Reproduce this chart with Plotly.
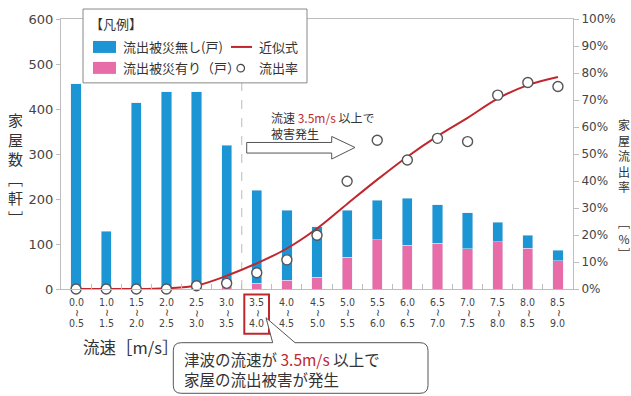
import plotly.graph_objects as go

# ---------------- data ----------------
speed_from = ["0.0", "1.0", "1.5", "2.0", "2.5", "3.0", "3.5", "4.0", "4.5",
              "5.0", "5.5", "6.0", "6.5", "7.0", "7.5", "8.0", "8.5"]
speed_to = ["0.5", "1.5", "2.0", "2.5", "3.0", "3.5", "4.0", "4.5", "5.0",
            "5.5", "6.0", "6.5", "7.0", "7.5", "8.0", "8.5", "9.0"]
categories = [f"{a}~{b}" for a, b in zip(speed_from, speed_to)]

# houses washed away (pink) and not washed away (blue)
washed = [0, 0, 0, 0, 5, 7, 13, 20, 26, 71, 109, 97, 102, 90, 105, 91, 63]
not_washed = [456, 128, 414, 438, 433, 312, 206, 155, 112, 104, 88, 105, 85, 80, 43, 29, 23]
# washed-away ratio (%) and fitted curve (%)
ratio = [0, 0, 0, 0, 1.2, 2.1, 6.0, 10.8, 19.9, 39.9, 55.1, 47.8, 55.8, 54.6, 71.8, 76.5, 75.0]
fit = [0, 0, 0, 0.3, 1.3, 4.9, 9.5, 15.0, 22.4, 31.5, 40.5, 49.0, 56.6, 63.4, 70.5, 75.5, 78.5]

left_ticks = [0, 100, 200, 300, 400, 500, 600]
right_ticks = [0, 10, 20, 30, 40, 50, 60, 70, 80, 90, 100]
right_labels = [f"{v}%" for v in right_ticks]

# ---------------- styles ----------------
BLUE = "#1b95d3"
PINK = "#e86ca8"
RED = "#c0272d"
GRAY = "#bdbdbd"
TXT = "#333333"
JP = "Noto Sans CJK JP"
NUM = "DejaVu Sans"
NARROW = "Liberation Sans Narrow, DejaVu Sans Condensed, DejaVu Sans"

W_FIG, H_FIG = 631, 396
L, R, T, B = 61, 573, 19, 289.5


def px(x):
    return (x - L) / (R - L)


def py(y):
    return (B - y) / (B - T)


fig = go.Figure()
fig.add_trace(go.Bar(x=categories, y=washed, marker_color=PINK, name="流出被災有り（戸）",
                     showlegend=False))
fig.add_trace(go.Bar(x=categories, y=not_washed, marker_color=BLUE, name="流出被災無し(戸)",
                     showlegend=False))
fig.add_trace(go.Scatter(x=categories, y=fit, yaxis="y2", mode="lines",
                         line=dict(color=RED, width=2, shape="spline", smoothing=1.0),
                         name="近似式", showlegend=False))
fig.add_trace(go.Scatter(x=categories, y=ratio, yaxis="y2", mode="markers",
                         marker=dict(size=10, color="white", line=dict(color="#555555", width=1.4)),
                         name="流出率", showlegend=False, cliponaxis=False))

shapes = []
annotations = []

# dashed boundary line between 3.0~3.5 and 3.5~4.0
shapes.append(dict(type="line", xref="x", yref="paper", x0=5.5, x1=5.5, y0=0, y1=1,
                   line=dict(color="#c8c8c8", width=1.2, dash="dash"), layer="below"))

# legend box
shapes.append(dict(type="rect", xref="paper", yref="paper", x0=px(83), x1=px(307),
                   y0=py(83), y1=py(9), line=dict(color="#888888", width=1), fillcolor="white"))
shapes.append(dict(type="rect", xref="paper", yref="paper", x0=px(93), x1=px(116),
                   y0=py(53), y1=py(41), line=dict(width=0), fillcolor=BLUE))
shapes.append(dict(type="rect", xref="paper", yref="paper", x0=px(93), x1=px(116),
                   y0=py(74), y1=py(62), line=dict(width=0), fillcolor=PINK))
shapes.append(dict(type="line", xref="paper", yref="paper", x0=px(231), x1=px(252),
                   y0=py(47), y1=py(47), line=dict(color=RED, width=2)))
shapes.append(dict(type="circle", xref="paper", yref="paper", x0=px(237), x1=px(244.5),
                   y0=py(72), y1=py(64.5), line=dict(color="#444444", width=1.2), fillcolor="white"))
leg_font = dict(family=JP, size=13, color=TXT)
annotations += [
    dict(text="【凡例】", x=px(88), y=py(24), xanchor="left", yanchor="middle",
         font=dict(family=JP, size=13, color=TXT)),
    dict(text="流出被災無し(戸)", x=px(121), y=py(47), xanchor="left", yanchor="middle", font=leg_font),
    dict(text="流出被災有り（戸）", x=px(121), y=py(68), xanchor="left", yanchor="middle", font=leg_font),
    dict(text="近似式", x=px(257), y=py(47), xanchor="left", yanchor="middle", font=leg_font),
    dict(text="流出率", x=px(257), y=py(68), xanchor="left", yanchor="middle", font=leg_font),
]

# hollow arrow with note
arrow = [(246.7, 142.7), (331.7, 142.7), (331.7, 136.7), (355, 147.7),
         (331.7, 159.3), (331.7, 153.3), (246.7, 153.3)]
path = "M " + " L ".join(f"{px(a):.5f},{py(b):.5f}" for a, b in arrow) + " Z"
shapes.append(dict(type="path", xref="paper", yref="paper", path=path,
                   line=dict(color="#555555", width=1), fillcolor="white"))
annotations.append(
    dict(text=f"流速 <span style='color:{RED}'>3.5m/s</span> 以上で<br>被害発生", x=px(269),
         y=py(126), xanchor="left", yanchor="middle", align="left",
         font=dict(family=JP, size=12, color=TXT)))

# x tick labels (stacked "from ~ to", the tilde turned upright)
tick_font = dict(family=NARROW, size=10.5, color="#444444")
for c, a, b in zip(categories, speed_from, speed_to):
    annotations.append(dict(text=a, x=c, xref="x", y=py(303), yanchor="middle", font=tick_font))
    annotations.append(dict(text="~", x=c, xref="x", y=py(313.5), yanchor="middle", textangle=90,
                            font=dict(family=NUM, size=10, color="#444444")))
    annotations.append(dict(text=b, x=c, xref="x", y=py(324), yanchor="middle", font=tick_font))

# red box around 3.5~4.0
shapes.append(dict(type="rect", xref="paper", yref="paper", x0=px(244.3), x1=px(269),
                   y0=py(334.3), y1=py(295), line=dict(color=RED, width=2)))

# callout bubble
r = 8
bx0, bx1, by0, by1 = 173.3, 428, 343.3, 394
pts = (f"M {px(bx0 + r)},{py(by0)} L {px(272.7)},{py(by0)} L {px(266)},{py(318.3)} "
       f"L {px(295)},{py(by0)} L {px(bx1 - r)},{py(by0)} "
       f"Q {px(bx1)},{py(by0)} {px(bx1)},{py(by0 + r)} L {px(bx1)},{py(by1 - r)} "
       f"Q {px(bx1)},{py(by1)} {px(bx1 - r)},{py(by1)} L {px(bx0 + r)},{py(by1)} "
       f"Q {px(bx0)},{py(by1)} {px(bx0)},{py(by1 - r)} L {px(bx0)},{py(by0 + r)} "
       f"Q {px(bx0)},{py(by0)} {px(bx0 + r)},{py(by0)} Z")
shapes.append(dict(type="path", xref="paper", yref="paper", path=pts,
                   line=dict(color="#555555", width=1), fillcolor="white"))
annotations.append(
    dict(text=f"津波の流速が <span style='color:{RED}'>3.5m/s</span> 以上で<br>家屋の流出被害が発生",
         x=px(182), y=py(369.5), xanchor="left", yanchor="middle", align="left",
         font=dict(family=JP, size=15.5, color=TXT)))

# axis titles
annotations += [
    dict(text="流速［m/s］", x=px(81), y=py(348), xanchor="left", yanchor="middle",
         font=dict(family=JP, size=16.5, color=TXT)),
    dict(text="家<br>屋<br>数<br>﹇<br>軒<br>﹈", x=px(15), y=py(107), xanchor="center", yanchor="top",
         font=dict(family=JP, size=15, color=TXT)),
    dict(text="家<br>屋<br>流<br>出<br>率", x=px(623.5), y=py(114), xanchor="center", yanchor="top",
         font=dict(family=JP, size=12, color=TXT)),
    dict(text="﹇<br>%<br>﹈", x=px(623.5), y=py(212), xanchor="center", yanchor="top",
         font=dict(family=JP, size=12, color=TXT)),
]
for a in annotations:
    a.setdefault("xref", "paper")
    a.setdefault("yref", "paper")
    a.setdefault("showarrow", False)

fig.update_layout(
    width=W_FIG, height=H_FIG,
    margin=dict(l=L, r=W_FIG - R, t=T, b=H_FIG - B),
    paper_bgcolor="white", plot_bgcolor="white",
    barmode="stack", bargap=0.66,
    showlegend=False,
    xaxis=dict(type="category", range=[-0.5, len(categories) - 0.5], showticklabels=False,
               ticks="inside", tickson="boundaries", ticklen=5, tickcolor=GRAY,
               showline=True, linecolor=GRAY, linewidth=1, mirror=True, showgrid=False),
    yaxis=dict(range=[0, 600], tickvals=left_ticks, ticks="outside", ticklen=4, tickcolor=GRAY,
               showline=True, linecolor=GRAY, linewidth=1, showgrid=False, zeroline=False,
               tickfont=dict(family=NUM, size=13, color="#444444")),
    yaxis2=dict(range=[0, 100], tickvals=right_ticks, ticktext=right_labels, overlaying="y",
                side="right", ticks="outside", ticklen=5, tickcolor=GRAY, showline=True,
                linecolor=GRAY, linewidth=1, showgrid=False, zeroline=False,
                tickfont=dict(family=NUM, size=12, color="#444444")),
    shapes=shapes, annotations=annotations,
)

fig.write_html("out.html")
